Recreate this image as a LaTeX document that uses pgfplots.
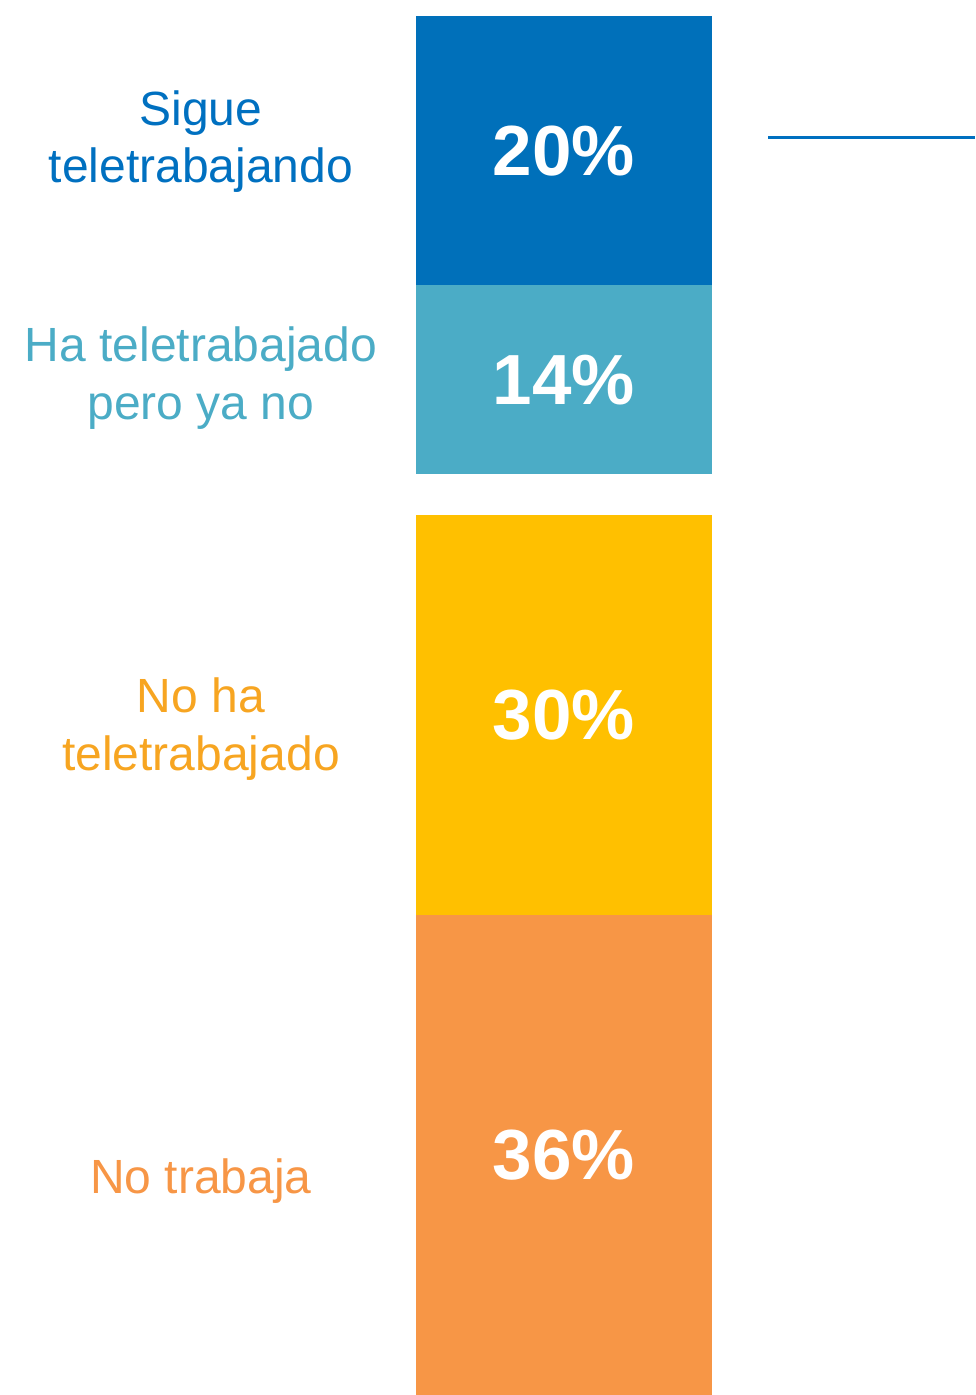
\documentclass[border=0pt]{standalone}
\usepackage{fontspec}
\setmainfont{Liberation Sans}
\usepackage{pgfplots}
\pgfplotsset{compat=1.18}
\definecolor{cA}{HTML}{0070BA}
\definecolor{cB}{HTML}{4BACC6}
\definecolor{cC}{HTML}{FFC000}
\definecolor{cD}{HTML}{F79646}
\definecolor{tA}{HTML}{0070C0}
\definecolor{tB}{HTML}{4BACC6}
\definecolor{tC}{HTML}{F7A521}
\definecolor{tD}{HTML}{F79646}
\tikzset{pct/.style={text=white, font=\bfseries\fontsize{71bp}{78bp}\selectfont, inner sep=0pt, anchor=center}}
\pgfplotsset{
  segax/.style={
    ybar stacked, y dir=reverse, scale only axis, hide axis,
    width=296bp, xmin=-0.5, xmax=0.5, ymin=0, bar width=296bp,
    anchor=north west, clip=false,
  },
}
\begin{document}
\begin{tikzpicture}[x=1bp,y=1bp]
\useasboundingbox (0,0) rectangle (975,-1395);
\begin{axis}[segax, at={(416bp,-16bp)}, height=458bp, ymax=34]
  \addplot[fill=cA, draw=none] coordinates {(0,20)};
  \addplot[fill=cB, draw=none] coordinates {(0,14)};
  \coordinate (p1) at (axis cs:0,10);
  \coordinate (p2) at (axis cs:0,27);
\end{axis}
\begin{axis}[segax, at={(416bp,-515bp)}, height=880bp, ymax=66]
  \addplot[fill=cC, draw=none] coordinates {(0,30)};
  \addplot[fill=cD, draw=none] coordinates {(0,36)};
  \coordinate (p3) at (axis cs:0,15);
  \coordinate (p4) at (axis cs:0,48);
\end{axis}
\node[pct] at (p1) {20\%};
\node[pct] at (p2) {14\%};
\node[pct] at (p3) {30\%};
\node[pct] at (p4) {36\%};
% category labels
\begin{scope}[every node/.style={inner sep=0pt, anchor=base}]
  \node[text=tA, font=\fontsize{48bp}{58bp}\selectfont] at (201,-125.5) {Sigue};
  \node[text=tA, font=\fontsize{48bp}{58bp}\selectfont] at (201,-182.5) {teletrabajando};
  \node[text=tB, font=\fontsize{48bp}{58bp}\selectfont] at (201,-361.5) {Ha teletrabajado};
  \node[text=tB, font=\fontsize{48bp}{58bp}\selectfont] at (201,-419.5) {pero ya no};
  \node[text=tC, font=\fontsize{48bp}{58bp}\selectfont] at (201,-712) {No ha};
  \node[text=tC, font=\fontsize{48bp}{58bp}\selectfont] at (201,-770) {teletrabajado};
  \node[text=tD, font=\fontsize{48bp}{58bp}\selectfont] at (201,-1193) {No trabaja};
\end{scope}
\draw[tA, line width=2.5bp] (768,-137.5) -- (975,-137.5);
\end{tikzpicture}
\end{document}
